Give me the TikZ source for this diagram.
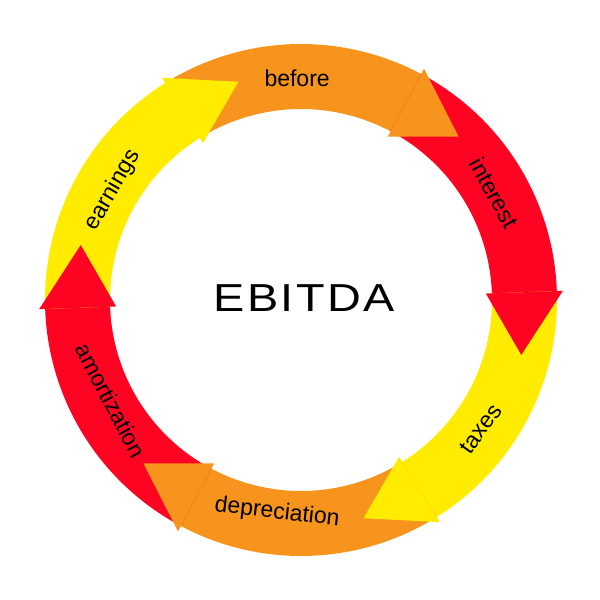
\documentclass[tikz,border=0pt]{standalone}
\usepackage{fontspec}
\setmainfont{Liberation Sans}
\newfontfamily\ctrfont[LetterSpace=5]{Liberation Sans}
\definecolor{cOrange}{RGB}{247,148,29}
\definecolor{cRed}{RGB}{255,4,34}
\definecolor{cYellow}{RGB}{255,236,0}
\tikzset{
  lbl/.style={font=\fontsize{23}{23}\selectfont, text=black, inner sep=0pt},
  ctr/.style={font=\ctrfont\fontsize{39}{39}\selectfont, text=black, inner sep=0pt, xscale=1.2}
}
% body: #1 colour, #2 start angle (tail), #3 end angle (head base)
\newcommand{\arrowbody}[3]{%
  \fill[#1] (#2:256pt) arc[start angle=#2, end angle=#3-0.6, radius=256pt]
    -- (#3-0.6:191pt) arc[start angle=#3-0.6, end angle=#2, radius=191pt] -- cycle;}
% head: #1 colour, #2 base angle, #3 tip angle
\newcommand{\arrowhead}[3]{%
  \fill[#1] (#2:185pt) -- (#2:262pt) -- (#3:227pt) -- cycle;}
\begin{document}
\begin{tikzpicture}
\useasboundingbox[fill=white] (-301pt,-300pt) rectangle (299pt,300pt);
% bodies
\arrowbody{cOrange}{122}{62}
\arrowbody{cRed}{62}{2}
\arrowbody{cYellow}{2}{-58}
\arrowbody{cOrange}{-58}{-118}
\arrowbody{cRed}{-118}{-178}
\arrowbody{cYellow}{182}{122}
% heads
\arrowhead{cOrange}{62}{46}
\arrowhead{cRed}{2}{-14}
\arrowhead{cYellow}{-58}{-74}
\arrowhead{cOrange}{-118}{-134}
\arrowhead{cRed}{182}{166}
\arrowhead{cYellow}{122}{106}
% labels
\node[lbl, rotate=0] (lbefore) at (91:222pt) {before};
\node[lbl, rotate=-61] (linterest) at (29:221pt) {interest};
\node[lbl, rotate=54] (ltaxes) at (-35.6:221pt) {taxes};
\node[lbl, rotate=-6.5] (ldep) at (-96.4:214pt) {depreciation};
\node[lbl, rotate=-62] (lamort) at (-152.2:215pt) {amortization};
\node[lbl, rotate=59.7] (learn) at (149.7:218pt) {earnings};
\node[ctr] (title) at (3pt,2pt) {EBITDA};
\end{tikzpicture}
\end{document}
